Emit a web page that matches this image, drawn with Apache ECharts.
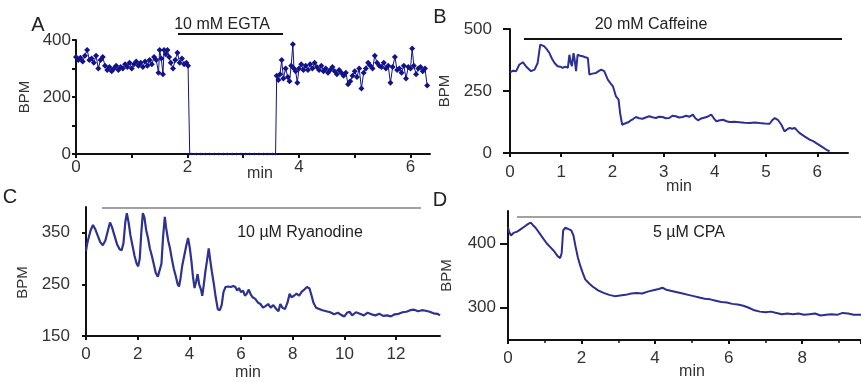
<!DOCTYPE html>
<html>
<head>
<meta charset="utf-8">
<script src="https://cdn.jsdelivr.net/npm/echarts@6/dist/echarts.min.js"></script>
<style>
  html, body { margin: 0; padding: 0; background: #fff; }
  #chart { width: 861px; height: 382px; }
</style>
</head>
<body>
<div id="chart"></div>
<script>
// [min, BPM]
const traceA = [
  [0.00,340],[0.04,330],[0.08,338],[0.12,325],[0.16,345],[0.20,365],[0.24,330],[0.28,335],[0.32,320],[0.36,345],
  [0.40,300],[0.44,330],[0.48,340],[0.52,310],[0.56,295],[0.60,305],[0.64,290],[0.68,300],[0.72,310],[0.76,295],
  [0.80,305],[0.84,300],[0.88,315],[0.92,305],[0.96,320],[1.00,300],[1.04,315],[1.08,325],[1.12,310],[1.16,320],
  [1.20,305],[1.24,325],[1.28,310],[1.32,330],[1.36,315],[1.40,340],[1.44,330],[1.48,285],[1.50,365],[1.53,335],
  [1.56,280],[1.58,365],[1.61,350],[1.64,365],[1.67,340],[1.70,320],[1.74,300],[1.78,330],[1.82,355],[1.86,320],
  [1.90,335],[1.94,315],[1.98,320],[2.01,310],[2.04,0],[2.08,0],[2.16,0],[2.24,0],[2.32,0],[2.40,0],
  [2.48,0],[2.56,0],[2.64,0],[2.72,0],[2.80,0],[2.88,0],[2.96,0],[3.04,0],[3.12,0],[3.20,0],
  [3.28,0],[3.36,0],[3.44,0],[3.52,0],[3.58,0],[3.60,275],[3.63,260],[3.66,280],[3.69,330],[3.72,265],
  [3.76,300],[3.80,270],[3.83,255],[3.86,310],[3.89,385],[3.91,300],[3.94,290],[3.97,250],[4.00,300],[4.04,315],
  [4.08,295],[4.12,310],[4.16,295],[4.20,315],[4.24,300],[4.28,320],[4.32,305],[4.36,295],[4.40,310],[4.44,290],
  [4.48,300],[4.52,285],[4.56,295],[4.60,305],[4.64,290],[4.68,280],[4.72,295],[4.76,285],[4.80,275],[4.84,285],
  [4.88,245],[4.92,255],[4.96,275],[5.00,290],[5.04,270],[5.08,300],[5.12,230],[5.16,285],[5.20,300],[5.24,320],
  [5.28,310],[5.32,300],[5.36,345],[5.40,320],[5.44,310],[5.48,305],[5.52,320],[5.56,300],[5.60,310],[5.64,250],
  [5.68,305],[5.72,340],[5.76,295],[5.80,300],[5.84,285],[5.88,310],[5.92,265],[5.96,305],[6.00,300],[6.03,370],
  [6.06,310],[6.10,280],[6.14,300],[6.18,305],[6.22,290],[6.26,300],[6.30,240]
];

const traceB = [
  [0.00,325],[0.06,332],[0.12,330],[0.18,356],[0.25,366],[0.31,350],[0.37,338],[0.41,330],[0.48,336],[0.54,363],
  [0.59,437],[0.63,434],[0.67,430],[0.72,418],[0.77,403],[0.82,380],[0.87,363],[0.93,350],[0.98,348],[1.03,343],
  [1.08,348],[1.13,343],[1.16,396],[1.19,360],[1.21,350],[1.24,403],[1.26,380],[1.29,330],[1.32,396],[1.37,392],
  [1.42,390],[1.47,386],[1.52,383],[1.55,316],[1.61,320],[1.68,323],[1.73,330],[1.78,336],[1.84,330],[1.91,296],
  [1.96,282],[2.01,269],[2.07,228],[2.12,215],[2.15,161],[2.19,114],[2.23,118],[2.27,121],[2.32,125],[2.36,132],
  [2.41,138],[2.46,145],[2.52,140],[2.59,138],[2.65,143],[2.72,148],[2.78,144],[2.85,141],[2.91,146],[2.98,145],
  [3.04,140],[3.11,141],[3.17,150],[3.24,148],[3.30,143],[3.37,145],[3.44,150],[3.50,146],[3.57,155],[3.62,140],
  [3.67,132],[3.72,138],[3.77,141],[3.84,145],[3.93,155],[3.98,140],[4.03,128],[4.10,132],[4.16,134],[4.23,128],
  [4.29,125],[4.38,126],[4.48,124],[4.58,122],[4.68,121],[4.78,123],[4.87,121],[4.97,119],[5.07,118],[5.12,132],
  [5.17,141],[5.23,134],[5.30,114],[5.36,87],[5.41,95],[5.46,101],[5.51,98],[5.56,101],[5.60,92],[5.65,81],
  [5.75,67],[5.85,54],[5.92,48],[5.98,40],[6.08,27],[6.18,13],[6.24,7]
];

const traceC = [
  [0.00,315],[0.05,330],[0.10,340],[0.18,355],[0.27,365],[0.35,358],[0.45,345],[0.55,332],[0.65,326],[0.75,335],
  [0.85,355],[0.93,370],[1.00,362],[1.10,345],[1.20,328],[1.30,318],[1.38,316],[1.45,330],[1.52,370],[1.58,388],
  [1.65,370],[1.72,345],[1.80,325],[1.88,305],[1.96,290],[2.02,285],[2.08,300],[2.14,350],[2.20,388],[2.26,380],
  [2.33,355],[2.40,340],[2.47,320],[2.55,305],[2.62,290],[2.70,272],[2.78,265],[2.85,262],[2.92,290],[2.98,340],
  [3.05,381],[3.10,360],[3.18,335],[3.25,320],[3.32,300],[3.40,280],[3.48,265],[3.55,250],[3.60,246],[3.66,262],
  [3.72,285],[3.80,305],[3.88,325],[3.95,340],[4.02,320],[4.08,295],[4.14,265],[4.20,243],[4.26,255],[4.32,270],
  [4.38,250],[4.45,240],[4.50,228],[4.56,250],[4.62,275],[4.68,295],[4.75,320],[4.80,300],[4.87,275],[4.95,250],
  [5.02,225],[5.10,202],[5.18,200],[5.25,210],[5.32,235],[5.40,245],[5.50,246],[5.60,245],[5.70,247],[5.78,245],
  [5.85,238],[5.92,243],[6.00,235],[6.08,238],[6.15,228],[6.22,232],[6.30,240],[6.38,230],[6.45,225],[6.55,222],
  [6.65,215],[6.75,212],[6.85,205],[6.95,208],[7.05,212],[7.15,205],[7.25,210],[7.35,203],[7.45,198],[7.52,212],
  [7.60,205],[7.70,202],[7.80,215],[7.88,232],[7.95,225],[8.05,228],[8.15,232],[8.25,228],[8.35,236],[8.45,240],
  [8.55,245],[8.65,242],[8.72,230],[8.80,215],[8.90,205],[9.00,203],[9.15,200],[9.30,198],[9.45,196],[9.60,192],
  [9.75,195],[9.90,190],[10.00,188],[10.10,195],[10.20,197],[10.30,190],[10.45,196],[10.60,193],[10.75,190],[10.90,195],
  [11.05,192],[11.20,190],[11.35,193],[11.50,189],[11.65,190],[11.80,188],[11.95,192],[12.10,193],[12.25,196],[12.40,197],
  [12.55,200],[12.70,201],[12.85,198],[13.00,200],[13.15,199],[13.30,197],[13.45,194],[13.60,193],[13.70,190]
];

const traceD = [
  [0.00,425],[0.03,418],[0.08,412],[0.15,416],[0.25,418],[0.35,422],[0.45,426],[0.55,430],[0.62,432],[0.68,428],
  [0.75,424],[0.85,416],[0.95,408],[1.05,400],[1.15,394],[1.25,388],[1.35,380],[1.42,377],[1.46,385],[1.50,420],
  [1.56,424],[1.65,422],[1.72,420],[1.78,412],[1.84,394],[1.90,378],[1.96,366],[2.02,356],[2.10,344],[2.20,338],
  [2.30,333],[2.45,327],[2.60,323],[2.75,320],[2.90,318],[3.05,319],[3.20,320],[3.35,322],[3.50,323],[3.65,322],
  [3.80,325],[3.95,327],[4.10,329],[4.20,331],[4.30,328],[4.45,326],[4.60,324],[4.75,322],[4.90,320],[5.05,318],
  [5.20,316],[5.35,314],[5.50,313],[5.65,311],[5.80,309],[5.95,308],[6.10,306],[6.25,305],[6.40,303],[6.55,300],
  [6.70,296],[6.85,294],[7.00,293],[7.15,294],[7.30,292],[7.45,290],[7.60,291],[7.75,290],[7.90,291],[8.05,289],
  [8.20,290],[8.35,291],[8.50,288],[8.65,289],[8.80,290],[8.95,289],[9.10,292],[9.25,291],[9.40,289],[9.60,289]
];

const labelsA_y = [0, 200, 400];
const labelsC_y = [150, 250, 350];
const labelsD_y = [300, 400];

const font = "Liberation Sans";
const ink = "#333";

function xAxisBase(i, max, interval, margin, gap, pad) {
  return {
    type: "value", gridIndex: i, min: 0, max: max, interval: interval,
    splitLine: { show: false },
    axisLine: { onZero: false, lineStyle: { color: "#111", width: 2 } },
    axisTick: { length: 4, lineStyle: { color: "#111", width: 2 } },
    axisLabel: { color: ink, fontFamily: font, fontSize: 17, margin: margin, showMaxLabel: false },
    name: "min", nameLocation: "middle", nameGap: gap, nameMoveOverlap: false,
    nameTextStyle: { color: ink, fontFamily: font, fontSize: 16, padding: pad },
  };
}
function yAxisBase(i, min, max, margin, gap, pad, tickLen) {
  return {
    type: "value", gridIndex: i, min: min, max: max,
    splitLine: { show: false },
    axisLine: { onZero: false, lineStyle: { color: "#111", width: 2 } },
    axisTick: { length: tickLen, lineStyle: { color: "#111", width: 2 } },
    axisLabel: { color: ink, fontFamily: font, fontSize: 17, margin: margin },
    name: "BPM", nameLocation: "middle", nameGap: gap, nameMoveOverlap: false,
    nameTextStyle: { color: ink, fontFamily: font, fontSize: 15, padding: pad },
  };
}

const xA = xAxisBase(0, 6.35, 1, 5, 12, [0, 0, 0, 14]);
xA.axisLabel.formatter = v => (v % 2 === 0 ? v : "");
const xB = xAxisBase(1, 6.6, 1, 11, 26, [0, 0, 0, 0]);
const xC = xAxisBase(2, 13.7, 2, 10, 29, [0, 30, 0, 0]);
const xD = xAxisBase(3, 9.6, 2, 10, 24, [0, 0, 0, 15]);
xD.minorTick = { show: true, splitNumber: 2, length: 3, lineStyle: { color: "#111", width: 1.5 } };

const yA = yAxisBase(0, 0, 400, 5, 44, [0, 0, 0, 0], 4);
yA.interval = 100;
yA.axisLabel.formatter = v => (labelsA_y.indexOf(v) >= 0 ? v : "");
const yB = yAxisBase(1, 0, 500, 18, 58, [0, 0, 0, 0], 7);
yB.interval = 250;
const yC = yAxisBase(2, 150, 400, 16, 56, [0, 22, 0, 0], 4);
yC.axisLabel.customValues = labelsC_y;
yC.axisTick.customValues = labelsC_y;
const yD = yAxisBase(3, 250, 450, 12, 54, [0, 0, 0, 0], 8);
yD.axisLabel.customValues = labelsD_y;
yD.axisTick.customValues = labelsD_y;

function txt(x, y, s, size, color) {
  return { type: "text", x: x, y: y, silent: true,
    style: { text: s, font: size + "px " + font, fill: color || "#222", align: "center", verticalAlign: "middle" } };
}
function bar(x1, x2, y, w, color) {
  return { type: "line", silent: true, shape: { x1: x1, y1: y, x2: x2, y2: y },
    style: { stroke: color, lineWidth: w } };
}

const chart = echarts.init(document.getElementById("chart"), null, { renderer: "canvas" });
chart.setOption({
  animation: false,
  backgroundColor: "#fff",
  grid: [
    { left: 76, top: 40, width: 354, height: 114 },
    { left: 510, top: 29, width: 338, height: 124 },
    { left: 86, top: 207, width: 354, height: 130 },
    { left: 508, top: 211, width: 353, height: 129 },
  ],
  xAxis: [xA, xB, xC, xD],
  yAxis: [yA, yB, yC, yD],
  series: [
    { type: "line", xAxisIndex: 0, yAxisIndex: 0, data: traceA, symbol: "diamond",
      symbolSize: v => (v[1] === 0 ? 3 : 6), color: "#12128a", lineStyle: { width: 1 } },
    { type: "line", xAxisIndex: 1, yAxisIndex: 1, data: traceB, showSymbol: false,
      color: "#2c3096", lineStyle: { width: 2 } },
    { type: "line", xAxisIndex: 2, yAxisIndex: 2, data: traceC, showSymbol: false,
      color: "#2e3290", lineStyle: { width: 2.2 } },
    { type: "line", xAxisIndex: 3, yAxisIndex: 3, data: traceD, showSymbol: false,
      color: "#2c2f8e", lineStyle: { width: 2 } },
  ],
  graphic: [
    txt(38, 25, "A", 20), txt(440, 17, "B", 20), txt(10, 197, "C", 20), txt(440, 200, "D", 20),
    txt(222, 25, "10 mM EGTA", 16), bar(178, 283, 34, 2, "#111"),
    txt(651, 25, "20 mM Caffeine", 16), bar(524, 842, 39, 2, "#111"),
    txt(300, 233, "10 µM Ryanodine", 16), bar(102, 421, 208, 1.2, "#444"),
    txt(689, 233, "5 µM CPA", 16), bar(517, 861, 217, 1.2, "#444"),
  ],
});
</script>
</body>
</html>
